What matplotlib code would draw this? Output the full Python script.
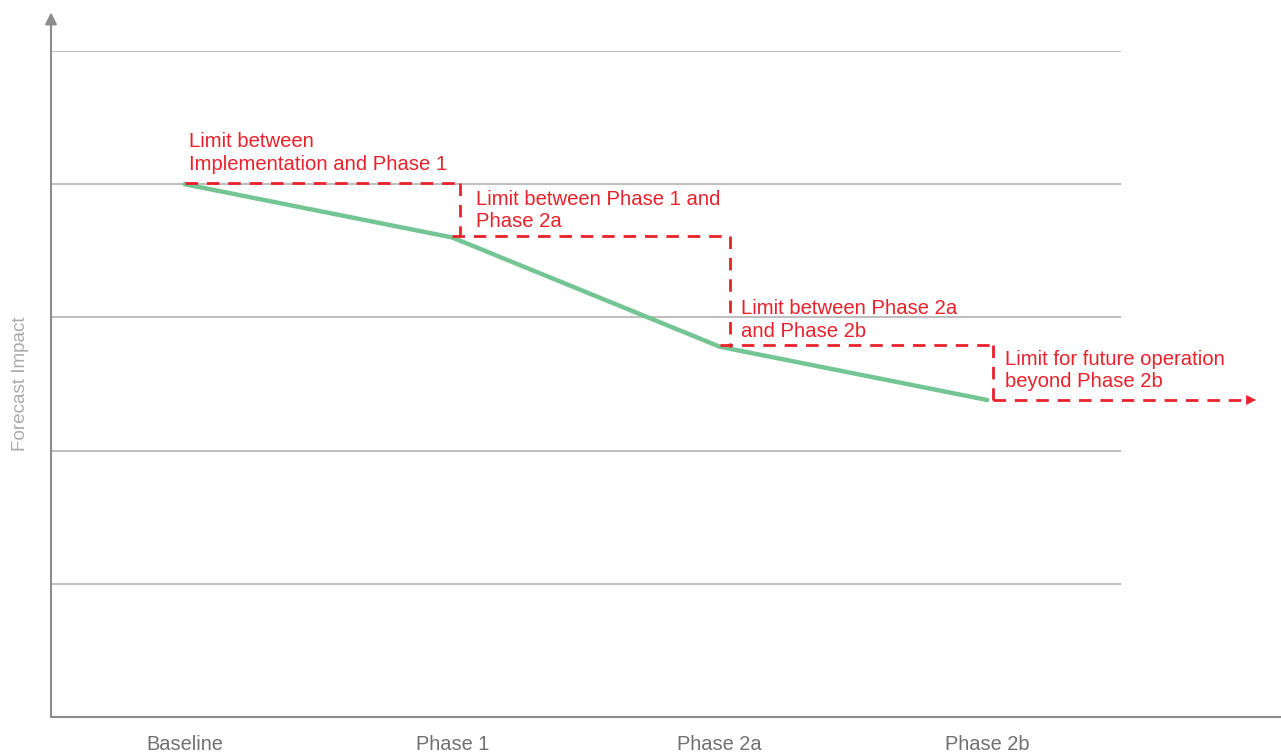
import matplotlib.pyplot as plt

stages = ["Baseline", "Phase 1", "Phase 2a", "Phase 2b"]
impact = [4.0, 3.6, 2.78, 2.38]
limit_labels = [
    "Limit between\nImplementation and Phase 1",
    "Limit between Phase 1 and\nPhase 2a",
    "Limit between Phase 2a\nand Phase 2b",
    "Limit for future operation\nbeyond Phase 2b",
]

red = "#e8212b"
green = "#74c594"
grey = "#8c8c8c"

plt.rcParams["font.family"] = ["Liberation Sans", "DejaVu Sans"]

fig = plt.figure(figsize=(12.81, 7.56), dpi=100)
ax = fig.add_axes([51 / 1281, 1 - 717 / 756, 1070 / 1281, 666 / 756])

x = list(range(len(stages)))
ax.set_xlim(-0.5, len(stages) - 0.5)
ax.set_ylim(0, 5)

# horizontal grid
for g in range(1, 6):
    ax.axhline(g, color="#bfbfbf", lw=1.5, zorder=0)

# axes: y with arrow head, x running past the plot area
for s in ax.spines.values():
    s.set_visible(False)
ax.plot([-0.5, 4.12], [0, 0], color=grey, lw=1.5, clip_on=False, zorder=1)
ax.annotate("", xy=(-0.5, 5.29), xytext=(-0.5, 0), xycoords="data",
            arrowprops=dict(arrowstyle="-|>,head_length=0.7,head_width=0.35",
                            color=grey, lw=1.5, mutation_scale=10,
                            shrinkA=0, shrinkB=0),
            annotation_clip=False)

ax.plot(x, impact, color=green, lw=3.2, solid_capstyle="round", zorder=3)

# stepped limits
dash = dict(color=red, lw=2, linestyle=(0, (4.5, 3.2)), zorder=4, clip_on=False)
offs = [0.03, 0.04, 0.02]
for i in range(len(stages) - 1):
    xs = x[i + 1] + offs[i]
    ax.plot([x[i], xs], [impact[i] + 0.01, impact[i] + 0.01], **dash)
    ax.plot([xs, xs], [impact[i] + 0.01, impact[i + 1]], **dash)
ax.plot([x[-1] + offs[-1], 3.98], [impact[-1], impact[-1]], **dash)
ax.annotate("", xy=(4.005, impact[-1]), xytext=(3.97, impact[-1]),
            arrowprops=dict(arrowstyle="-|>,head_length=0.8,head_width=0.4",
                            color=red, lw=0.5, mutation_scale=8,
                            shrinkA=0, shrinkB=0),
            annotation_clip=False, zorder=4)

# labels for each limit
text_pos = [(0.015, 4.39), (x[1] + 0.09, 3.955), (x[2] + 0.08, 3.135), (x[3] + 0.065, 2.755)]
for (tx, ty), lab in zip(text_pos, limit_labels):
    ax.text(tx, ty, lab, color=red, fontsize=14.6, ha="left", va="top",
            linespacing=1.22, zorder=5)

ax.set_xticks(x)
ax.set_xticklabels(stages, color="#707070", fontsize=14.4)
ax.tick_params(axis="x", length=0, pad=13)
ax.set_yticks([])
ax.set_ylabel("Forecast Impact", color="#ababab", fontsize=13.6, labelpad=16)

fig.savefig("out.png", dpi=100)
